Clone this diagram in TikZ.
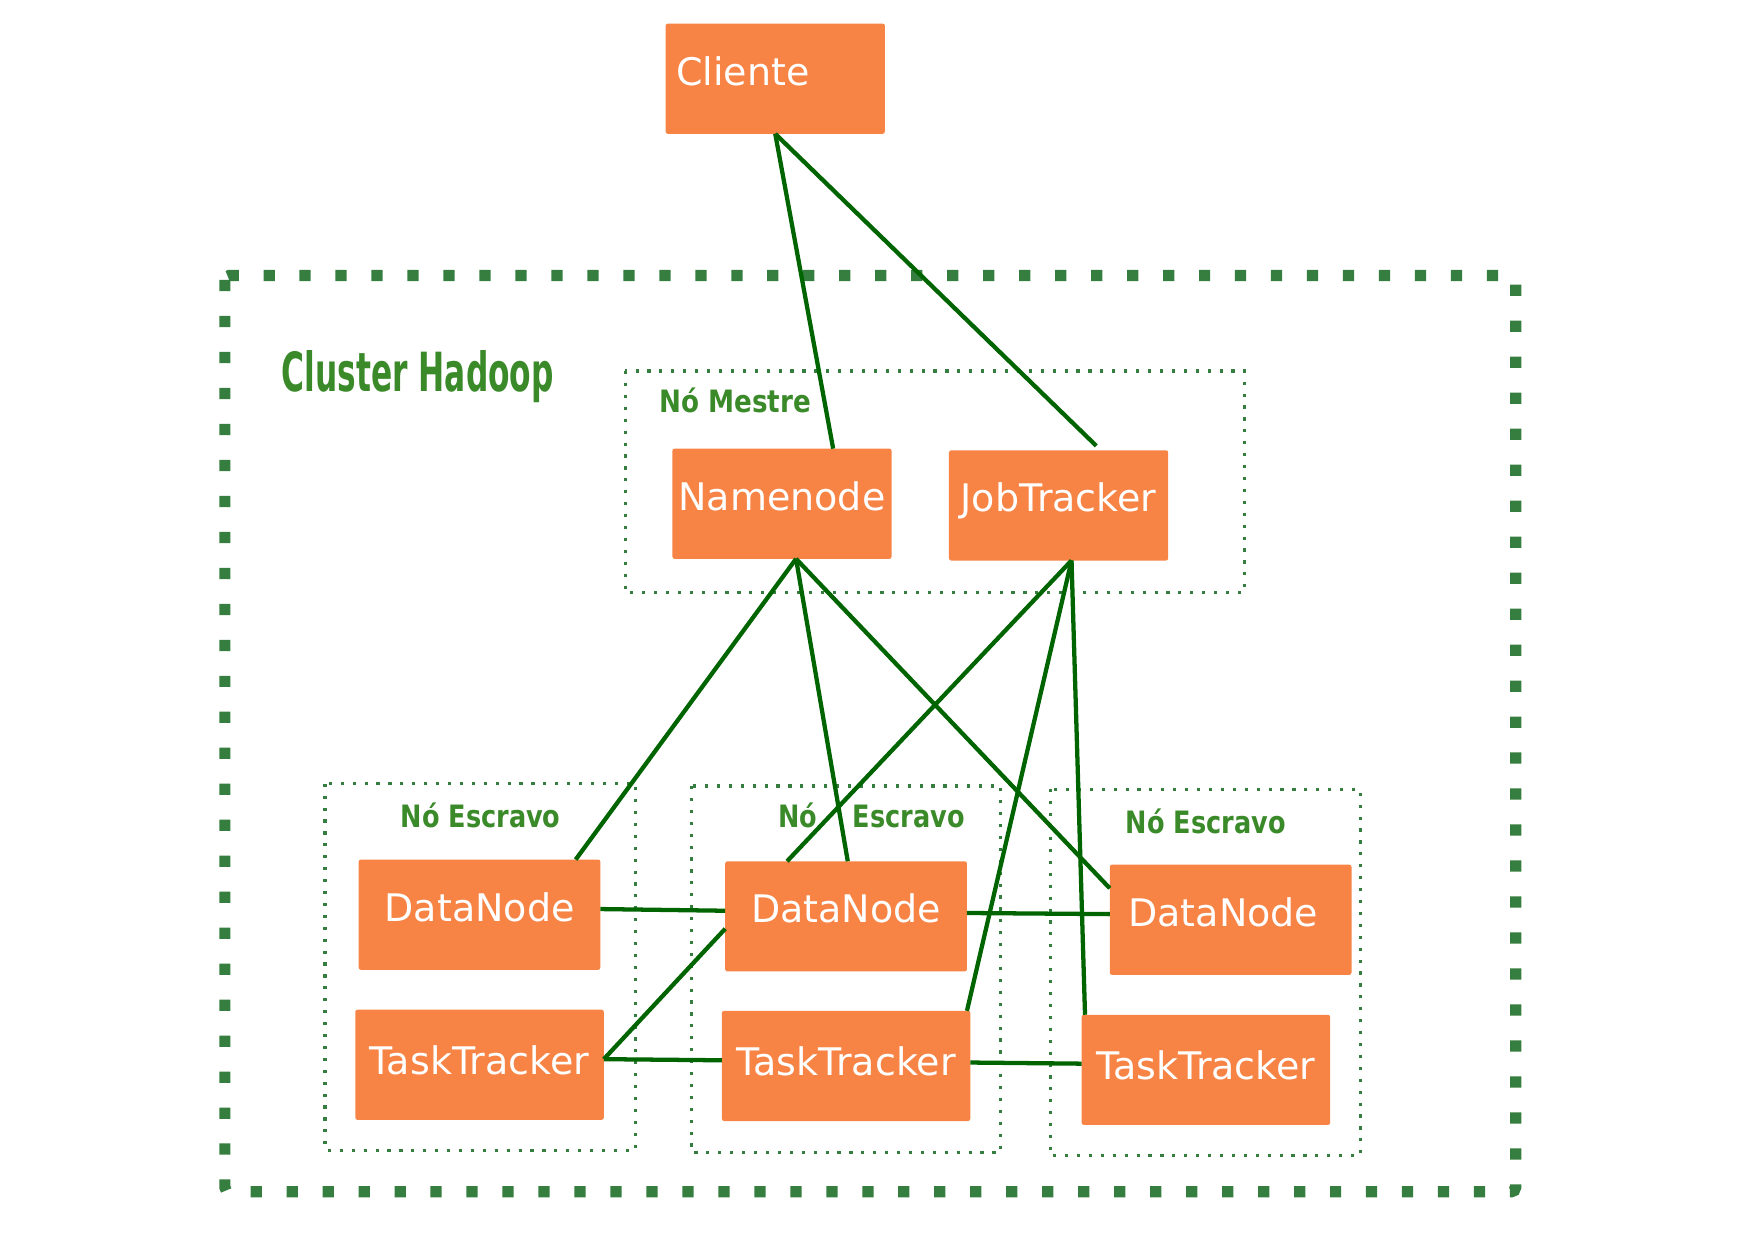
\documentclass[tikz,border=0pt]{standalone}
\usepackage{fontspec}
\setmainfont{DejaVu Sans}
\newfontfamily\condfont[FakeStretch=0.58]{DejaVu Sans}
\newfontfamily\semicondfont[FakeStretch=0.85]{DejaVu Sans}
\newfontfamily\escfont[FakeStretch=0.83]{DejaVu Sans}
\usetikzlibrary{calc}
\definecolor{boxorange}{HTML}{F78345}
\definecolor{lblgreen}{HTML}{3A8A2A}
\definecolor{dotgreen}{HTML}{367E3F}
\definecolor{linkgreen}{HTML}{006400}
\begin{document}
\begin{tikzpicture}[x=0.5pt,y=-0.5pt,
  box/.style={fill=boxorange, rounded corners=1pt, inner sep=0pt, outer sep=0pt,
    text=white, font=\fontsize{16.9}{20}\selectfont, minimum height=49pt},
  mbox/.style={box, minimum width=97.5pt, text depth=7pt},
  dnbox/.style={box, minimum width=107.5pt, text depth=7pt},
  ttbox/.style={box, minimum width=110.5pt, text depth=4pt},
  bigframe/.style={draw=dotgreen, line width=5pt, dash pattern=on 5pt off 11pt, rounded corners=2pt},
  smallframe/.style={draw=dotgreen, line width=1.4pt, dash pattern=on 1.4pt off 3.9pt},
  grouplabel/.style={text=lblgreen, inner sep=0pt, anchor=base west,
    font={\semicondfont\bfseries\fontsize{13.7}{16}\selectfont}},
  esclabel/.style={grouplabel, font={\escfont\bfseries\fontsize{13.7}{16}\selectfont}},
  titlelabel/.style={text=lblgreen, inner sep=0pt, anchor=base west,
    font={\condfont\bfseries\fontsize{24}{28}\selectfont}},
  link/.style={draw=linkgreen, line width=1.9pt}
]
\useasboundingbox (0,0) rectangle (1568,1109);

% frames
\draw[bigframe] (200,245) rectangle (1348,1060);
\draw[smallframe] (556,330) rectangle (1107,527);
\draw[smallframe] (289,697) rectangle (565,1023);
\draw[smallframe] (615,699) rectangle (890,1025);
\draw[smallframe] (934,702) rectangle (1210,1028);

% labels
\node[titlelabel] (lcluster) at (250,348) {Cluster Hadoop};
\node[grouplabel] (lmestre) at (586,367) {Nó Mestre};
\node[esclabel] (lesc1) at (356,736) {Nó Escravo};
\node[esclabel] (lesc2a) at (692,736) {Nó};
\node[esclabel] (lesc2b) at (758,736) {Escravo};
\node[esclabel] (lesc3) at (1001,741) {Nó Escravo};

% boxes
\node[box, minimum width=97.5pt] (cli) at (689.5,70) {};
\node[text=white, inner sep=0pt, anchor=base west, font=\fontsize{16.9}{20}\selectfont] (clitxt) at (601,76) {Cliente};
\node[mbox] (nn) at (695.5,448) {Namenode};
\node[mbox] (jt) at (941.5,449.5) {JobTracker};
\node[dnbox] (dn1) at (426.5,813.5) {DataNode};
\node[ttbox] (tt1) at (426.5,947) {TaskTracker};
\node[dnbox] (dn2) at (752.5,815) {DataNode};
\node[ttbox] (tt2) at (752.5,948) {TaskTracker};
\node[dnbox] (dn3) at (1094.5,818) {};
\node[text=white, inner sep=0pt, font=\fontsize{16.9}{20}\selectfont, text depth=7pt] (dn3txt) at (1088,818) {DataNode};
\node[ttbox] (tt3) at (1072.5,951.5) {TaskTracker};

% anchor points
\coordinate (nnb) at ($(nn.south)+(12.5,0)$);
\coordinate (jtb) at ($(jt.south)+(11.5,0)$);

% connectors
\draw[link] (cli.south) -- ($(nn.north west)+(143,0)$);
\draw[link] (cli.south) -- ($(jt.north)+(33.5,-4)$);
\draw[link] (nnb) -- ($(dn1.north)+(85.5,0)$);
\draw[link] (nnb) -- ($(dn2.north)+(1.5,0)$);
\draw[link] (nnb) -- ($(dn3.west)+(0,-28)$);
\draw[link] (jtb) -- ($(dn2.north)+(-52.5,0)$);
\draw[link] (jtb) -- ($(tt2.north east)+(-3,0)$);
\draw[link] (jtb) -- ($(tt3.north west)+(3,0)$);
\draw[link] ($(dn1.east)+(0,-5)$) -- ($(dn2.west)+(0,-5)$);
\draw[link] ($(dn2.east)+(0,-3)$) -- ($(dn3.west)+(0,-5)$);
\draw[link] ($(tt1.east)+(0,-5)$) -- ($(tt2.west)+(0,-5)$);
\draw[link] ($(tt1.east)+(0,-5)$) -- ($(dn2.west)+(0,11)$);
\draw[link] ($(tt2.east)+(0,-3)$) -- ($(tt3.west)+(0,-5.5)$);
\end{tikzpicture}
\end{document}
